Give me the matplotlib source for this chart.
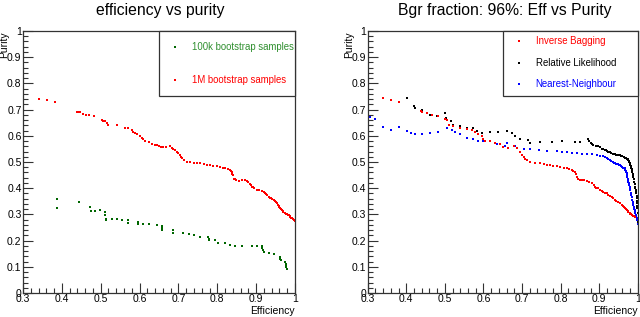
import matplotlib
matplotlib.use("Agg")
import matplotlib.pyplot as plt
from matplotlib.ticker import MultipleLocator, FuncFormatter
from matplotlib.patches import Rectangle

plt.rcParams['font.family'] = ['Liberation Sans', 'DejaVu Sans']

# ---- Left panel data ----
red1m_eff = [0.341, 0.362, 0.382, 0.440, 0.444, 0.447, 0.455, 0.462, 0.470, 0.483, 0.503, 0.507,
             0.511, 0.516, 0.520, 0.541, 0.563, 0.570, 0.580, 0.584, 0.588, 0.594, 0.601, 0.605,
             0.610, 0.614, 0.623, 0.632, 0.640, 0.645, 0.649, 0.655, 0.661, 0.668, 0.679, 0.683,
             0.687, 0.692, 0.696, 0.700, 0.704, 0.707, 0.710, 0.715, 0.721, 0.730, 0.739, 0.748,
             0.756, 0.765, 0.773, 0.782, 0.790, 0.799, 0.807, 0.814, 0.820, 0.827, 0.833, 0.835,
             0.837, 0.839, 0.840, 0.842, 0.846, 0.849, 0.855, 0.864, 0.872, 0.876, 0.880, 0.884,
             0.887, 0.889, 0.892, 0.895, 0.902, 0.908, 0.915, 0.920, 0.923, 0.926, 0.928, 0.932,
             0.936, 0.939, 0.942, 0.945, 0.948, 0.950, 0.953, 0.956, 0.958, 0.960, 0.962, 0.964,
             0.966, 0.968, 0.970, 0.973, 0.975, 0.977, 0.979, 0.982, 0.984, 0.986, 0.988, 0.990,
             0.992, 0.994, 0.996, 0.998, 1.000]
red1m_pur = [0.742, 0.738, 0.729, 0.692, 0.691, 0.690, 0.684, 0.681, 0.679, 0.677, 0.660, 0.658,
             0.655, 0.648, 0.642, 0.640, 0.629, 0.628, 0.621, 0.616, 0.611, 0.605, 0.599, 0.592,
             0.587, 0.582, 0.576, 0.570, 0.566, 0.563, 0.561, 0.559, 0.557, 0.558, 0.561, 0.555,
             0.548, 0.544, 0.540, 0.533, 0.527, 0.520, 0.514, 0.507, 0.501, 0.499, 0.497, 0.496,
             0.495, 0.492, 0.489, 0.488, 0.486, 0.484, 0.482, 0.479, 0.476, 0.472, 0.469, 0.465,
             0.460, 0.455, 0.450, 0.437, 0.435, 0.433, 0.429, 0.430, 0.431, 0.428, 0.425, 0.416,
             0.411, 0.406, 0.403, 0.400, 0.395, 0.392, 0.390, 0.385, 0.380, 0.377, 0.373, 0.367,
             0.364, 0.361, 0.358, 0.355, 0.352, 0.349, 0.342, 0.337, 0.333, 0.328, 0.323, 0.319,
             0.316, 0.313, 0.310, 0.307, 0.305, 0.303, 0.301, 0.298, 0.296, 0.293, 0.291, 0.288,
             0.286, 0.283, 0.281, 0.277, 0.274]

green100k_eff = [0.388, 0.388, 0.443, 0.473, 0.475, 0.486, 0.497, 0.510, 0.512, 0.514, 0.514,
                 0.528, 0.541, 0.554, 0.571, 0.571, 0.597, 0.597, 0.610, 0.623, 0.644, 0.657,
                 0.658, 0.659, 0.687, 0.687, 0.713, 0.726, 0.739, 0.756, 0.777, 0.778, 0.779,
                 0.794, 0.803, 0.820, 0.833, 0.846, 0.863, 0.889, 0.902, 0.915, 0.916, 0.917,
                 0.919, 0.932, 0.945, 0.962, 0.962, 0.963, 0.975, 0.976, 0.977, 0.978, 0.980]
green100k_pur = [0.357, 0.325, 0.346, 0.327, 0.312, 0.312, 0.316, 0.310, 0.297, 0.284, 0.277,
                 0.284, 0.282, 0.279, 0.278, 0.268, 0.272, 0.265, 0.263, 0.263, 0.259, 0.255,
                 0.248, 0.242, 0.240, 0.230, 0.230, 0.224, 0.221, 0.214, 0.212, 0.207, 0.202,
                 0.202, 0.191, 0.189, 0.182, 0.180, 0.179, 0.180, 0.180, 0.179, 0.170, 0.163,
                 0.157, 0.151, 0.147, 0.138, 0.131, 0.125, 0.119, 0.112, 0.106, 0.100, 0.093]

# ---- Right panel data ----
ib_eff = [0.339, 0.360, 0.381, 0.438, 0.441, 0.453, 0.466, 0.481, 0.500, 0.505, 0.512, 0.522,
          0.539, 0.557, 0.570, 0.578, 0.587, 0.596, 0.600, 0.604, 0.617, 0.630, 0.643, 0.652,
          0.665, 0.678, 0.687, 0.695, 0.700, 0.704, 0.708, 0.714, 0.721, 0.734, 0.747, 0.756,
          0.764, 0.772, 0.781, 0.790, 0.799, 0.808, 0.816, 0.823, 0.829, 0.833, 0.837, 0.840,
          0.842, 0.846, 0.851, 0.856, 0.860, 0.868, 0.875, 0.881, 0.886, 0.889, 0.893, 0.896,
          0.902, 0.907, 0.911, 0.916, 0.920, 0.924, 0.928, 0.933, 0.937, 0.941, 0.945, 0.950,
          0.954, 0.958, 0.961, 0.964, 0.967, 0.970, 0.972, 0.974, 0.976, 0.979, 0.981, 0.983,
          0.985, 0.987, 0.989, 0.991, 0.993]
ib_pur = [0.743, 0.738, 0.729, 0.696, 0.691, 0.687, 0.681, 0.677, 0.665, 0.660, 0.643, 0.637,
          0.630, 0.627, 0.624, 0.615, 0.605, 0.599, 0.586, 0.580, 0.580, 0.573, 0.567, 0.558,
          0.554, 0.561, 0.554, 0.540, 0.528, 0.520, 0.512, 0.506, 0.501, 0.498, 0.495, 0.492,
          0.489, 0.487, 0.485, 0.483, 0.480, 0.478, 0.476, 0.472, 0.469, 0.466, 0.463, 0.454,
          0.444, 0.437, 0.431, 0.430, 0.430, 0.429, 0.423, 0.418, 0.412, 0.406, 0.402, 0.399,
          0.393, 0.390, 0.387, 0.383, 0.380, 0.375, 0.370, 0.365, 0.361, 0.356, 0.352, 0.347,
          0.342, 0.337, 0.332, 0.327, 0.323, 0.319, 0.316, 0.313, 0.310, 0.306, 0.303, 0.300,
          0.297, 0.295, 0.293, 0.292, 0.291]

rl_eff = [0.401, 0.421, 0.423, 0.440, 0.462, 0.479, 0.500, 0.503, 0.515, 0.522, 0.539, 0.557,
          0.574, 0.583, 0.596, 0.617, 0.639, 0.661, 0.673, 0.682, 0.695, 0.716, 0.721, 0.747,
          0.777, 0.803, 0.838, 0.851, 0.872, 0.875, 0.878, 0.881, 0.885, 0.891, 0.898, 0.903,
          0.907, 0.911, 0.914, 0.917, 0.920, 0.924, 0.928, 0.932, 0.937, 0.941, 0.945, 0.950,
          0.954, 0.957, 0.960, 0.964, 0.967, 0.970, 0.972, 0.974, 0.976, 0.977, 0.978, 0.979,
          0.980, 0.982, 0.983, 0.984, 0.985, 0.986, 0.987, 0.988, 0.989, 0.990, 0.991, 0.992,
          0.993, 0.994, 0.995, 0.995, 0.996, 0.997, 0.997, 0.998, 0.998, 0.999, 0.999, 1.000,
          1.000]
rl_pur = [0.744, 0.715, 0.706, 0.700, 0.681, 0.675, 0.687, 0.668, 0.656, 0.643, 0.637, 0.630,
          0.630, 0.618, 0.611, 0.614, 0.615, 0.618, 0.609, 0.599, 0.589, 0.584, 0.573, 0.576,
          0.576, 0.580, 0.577, 0.576, 0.589, 0.581, 0.573, 0.568, 0.563, 0.562, 0.561, 0.556,
          0.551, 0.549, 0.546, 0.544, 0.542, 0.540, 0.537, 0.535, 0.532, 0.530, 0.528, 0.526,
          0.525, 0.523, 0.521, 0.519, 0.517, 0.514, 0.512, 0.510, 0.508, 0.505, 0.501, 0.495,
          0.489, 0.484, 0.479, 0.474, 0.469, 0.462, 0.456, 0.450, 0.444, 0.435, 0.425, 0.415,
          0.406, 0.400, 0.393, 0.387, 0.380, 0.370, 0.361, 0.351, 0.342, 0.332, 0.323, 0.304,
          0.272]

nn_eff = [0.306, 0.319, 0.339, 0.360, 0.380, 0.401, 0.412, 0.423, 0.440, 0.462, 0.483, 0.505,
          0.518, 0.526, 0.539, 0.557, 0.574, 0.587, 0.600, 0.617, 0.634, 0.656, 0.661, 0.682,
          0.704, 0.721, 0.743, 0.764, 0.790, 0.803, 0.816, 0.829, 0.842, 0.855, 0.868, 0.881,
          0.894, 0.903, 0.911, 0.916, 0.920, 0.924, 0.928, 0.932, 0.935, 0.938, 0.941, 0.945,
          0.948, 0.951, 0.954, 0.957, 0.960, 0.963, 0.967, 0.968, 0.969, 0.970, 0.971, 0.972,
          0.973, 0.974, 0.975, 0.976, 0.977, 0.978, 0.979, 0.980, 0.981, 0.982, 0.983, 0.985,
          0.986, 0.987, 0.988, 0.989, 0.990, 0.991, 0.992, 0.993, 0.994, 0.995, 0.996, 0.997,
          0.998, 1.000]
nn_pur = [0.671, 0.666, 0.633, 0.624, 0.633, 0.618, 0.612, 0.605, 0.605, 0.611, 0.615, 0.630,
          0.624, 0.614, 0.605, 0.592, 0.586, 0.580, 0.580, 0.580, 0.567, 0.561, 0.573, 0.561,
          0.548, 0.548, 0.544, 0.542, 0.542, 0.540, 0.538, 0.535, 0.533, 0.532, 0.532, 0.529,
          0.525, 0.524, 0.523, 0.520, 0.516, 0.512, 0.508, 0.505, 0.501, 0.498, 0.495, 0.493,
          0.492, 0.490, 0.489, 0.486, 0.482, 0.479, 0.476, 0.471, 0.466, 0.462, 0.457, 0.450,
          0.444, 0.437, 0.431, 0.425, 0.418, 0.412, 0.405, 0.399, 0.393, 0.383, 0.374, 0.365,
          0.355, 0.348, 0.342, 0.336, 0.329, 0.322, 0.316, 0.310, 0.304, 0.297, 0.291, 0.285,
          0.278, 0.265]

left_title = "efficiency vs purity"
right_title = "Bgr fraction: 96%: Eff vs Purity"
left_legend = ["100k bootstrap samples", "1M bootstrap samples"]
right_legend = ["Inverse Bagging", "Relative Likelihood", "Nearest-Neighbour"]

C_RED = "#ff0000"
C_GREEN = "#006600"
C_GREEN_TXT = "#2f8f2f"
C_BLUE = "#0000ff"
C_BLACK = "#000000"

fig = plt.figure(figsize=(6.4, 3.17), dpi=100)
ax1 = fig.add_axes([23/640, 24/317, 272/640, 262/317])
ax2 = fig.add_axes([367.7/640, 24/317, 270/640, 262/317])

fmt = FuncFormatter(lambda v, p: "%g" % round(v, 3))

def style(ax):
    ax.set_xlim(0.3, 1.0)
    ax.set_ylim(0.0, 1.0)
    ax.xaxis.set_major_locator(MultipleLocator(0.1))
    ax.xaxis.set_minor_locator(MultipleLocator(0.02))
    ax.yaxis.set_major_locator(MultipleLocator(0.1))
    ax.yaxis.set_minor_locator(MultipleLocator(0.02))
    ax.xaxis.set_major_formatter(fmt)
    ax.yaxis.set_major_formatter(fmt)
    ax.tick_params(which='both', direction='in', top=False, right=False,
                   labelsize=7.5, width=0.8, color='#333333')
    ax.tick_params(axis='x', pad=1.0)
    ax.tick_params(axis='y', pad=1.0)
    ax.tick_params(which='major', length=7)
    ax.tick_params(which='minor', length=3.5)
    for s in ax.spines.values():
        s.set_linewidth(0.9)
        s.set_color('#333333')
    ax.text(-0.07, 1.0, "Purity", rotation=90, ha='center', va='top',
            transform=ax.transAxes, fontsize=7.5)
    ax.text(1.0, -0.048, "Efficiency", ha='right', va='top',
            transform=ax.transAxes, fontsize=7.5)

style(ax1)
style(ax2)

ms = 4.0
ax1.scatter(green100k_eff, green100k_pur, s=ms, marker='s', color=C_GREEN, linewidths=0)
ax1.scatter(red1m_eff, red1m_pur, s=ms, marker='s', color=C_RED, linewidths=0)

ax2.scatter(rl_eff, rl_pur, s=ms, marker='s', color=C_BLACK, linewidths=0)
ax2.scatter(nn_eff, nn_pur, s=ms, marker='s', color=C_BLUE, linewidths=0)
ax2.scatter(ib_eff, ib_pur, s=ms, marker='s', color=C_RED, linewidths=0)

fig.text(160/640, 1 - 11/317, left_title, ha='center', va='center', fontsize=11.3)
fig.text(505/640, 1 - 11/317, right_title, ha='center', va='center', fontsize=11.3)

# legend boxes
def legend_box(ax, entries, colors, tcolors, ys):
    ax.add_patch(Rectangle((0.5, 0.752), 0.5, 0.248, transform=ax.transAxes,
                           fill=True, facecolor='white', edgecolor='#333333',
                           linewidth=0.9, zorder=5, clip_on=False))
    for lab, c, tc, y in zip(entries, colors, tcolors, ys):
        ax.scatter([0.56], [y], s=3, marker='s', color=c, linewidths=0,
                   transform=ax.transAxes, zorder=6, clip_on=False)
        ax.text(0.622, y, lab, color=tc, fontsize=6.9, ha='left', va='center',
                transform=ax.transAxes, zorder=6)

legend_box(ax1, left_legend, [C_GREEN, C_RED], [C_GREEN_TXT, C_RED], [0.94, 0.813])
legend_box(ax2, right_legend, [C_RED, C_BLACK, C_BLUE], [C_RED, C_BLACK, C_BLUE],
           [0.962, 0.877, 0.797])

fig.savefig("out.png", dpi=100)
